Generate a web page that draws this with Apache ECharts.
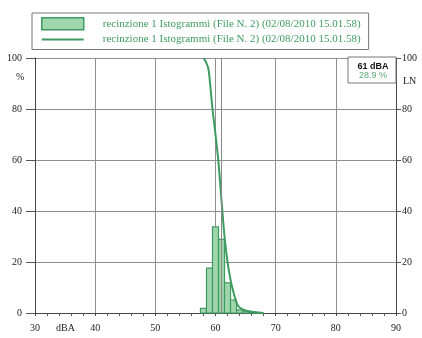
<!DOCTYPE html>
<html><head><meta charset="utf-8">
<script src="https://cdn.jsdelivr.net/npm/echarts@6/dist/echarts.min.js"></script>
<style>html,body{margin:0;padding:0;background:#fff}#c{width:422px;height:338px}</style>
</head><body><div id="c"></div>
<script>
const levels = [58, 59, 60, 61, 62, 63, 64, 65, 66, 67];
const histValues = [1.8, 17.6, 33.8, 28.9, 11.8, 5.1, 1.2, 0.7, 0.4, 0.2];
const lnLevels = [58.0, 58.4, 58.8, 59.1, 59.5, 60.0, 60.5, 61.0, 61.5, 62.0, 62.5, 63.0, 63.5, 64.0, 65.0, 66.0, 67.0, 68.0];
const lnValues = [100, 98.5, 96, 90, 80, 70, 59, 44, 30, 20, 13, 8, 4, 2.2, 1, 0.5, 0.2, 0];
const xTicks = [30, 40, 50, 60, 70, 80, 90];
const yTicks = [0, 20, 40, 60, 80, 100];
const seriesLabel = 'recinzione 1 Istogrammi (File N. 2) (02/08/2010 15.01.58)';
const cursorLevel = 61;
const cursorLabel = '61 dBA';
const cursorValue = '28.9 %';

const GREEN = '#3f9b62';
const FILL = '#9fd6ab';
const GRID = '#8e8e8e';
const SERIF = '"Liberation Serif", "DejaVu Serif", serif';
const LINE_ICON = 'path://M0,0 L42,0 Z M0,5 L42,5 L42,7 L0,7 Z M0,12 L42,12 Z';

const chart = echarts.init(document.getElementById('c'), null, {renderer: 'canvas'});
const axisLabelStyle = {fontFamily: SERIF, fontSize: 10, color: '#222'};

chart.setOption({
  animation: false,
  backgroundColor: '#fff',
  grid: {left: 35, right: 26, top: 58, bottom: 25},
  legend: {
    orient: 'vertical', left: 32, top: 13,
    borderColor: '#777', borderWidth: 1, padding: [4, 8, 4, 9],
    itemWidth: 42, itemHeight: 12, itemGap: 3,
    textStyle: {fontFamily: SERIF, fontSize: 11, color: GREEN, padding: [0, 0, 0, 14]},
    formatter: function () { return seriesLabel; },
    data: [
      {name: 'Istogramma', icon: 'rect', itemStyle: {color: FILL, borderColor: GREEN, borderWidth: 1.5}},
      {name: 'LN', icon: LINE_ICON, itemStyle: {color: GREEN, borderWidth: 0}}
    ]
  },
  xAxis: {
    type: 'value', min: xTicks[0], max: xTicks[xTicks.length - 1], interval: 10,
    axisLine: {show: true, lineStyle: {color: '#444'}},
    axisTick: {show: true, length: 3, lineStyle: {color: '#444'}},
    minorTick: {show: true, splitNumber: 5, length: 3, lineStyle: {color: '#555'}},
    splitLine: {show: true, lineStyle: {color: GRID, width: 1}},
    axisLabel: Object.assign({margin: 10, showMinLabel: true, showMaxLabel: true}, axisLabelStyle)
  },
  yAxis: [
    {
      type: 'value', min: yTicks[0], max: yTicks[yTicks.length - 1], interval: 20, position: 'left',
      axisLine: {show: true, lineStyle: {color: '#444'}},
      axisTick: {show: true, length: 9, lineStyle: {color: '#555'}},
      splitLine: {show: true, lineStyle: {color: GRID, width: 1}},
      axisLabel: Object.assign({margin: 13}, axisLabelStyle)
    },
    {
      type: 'value', min: yTicks[0], max: yTicks[yTicks.length - 1], interval: 20, position: 'right',
      axisLine: {show: true, lineStyle: {color: '#444'}},
      axisTick: {show: true, length: 5, lineStyle: {color: '#555'}},
      splitLine: {show: false},
      axisLabel: Object.assign({margin: 6}, axisLabelStyle)
    }
  ],
  series: [
    {
      name: 'Istogramma', type: 'custom', yAxisIndex: 0,
      itemStyle: {color: FILL, borderColor: GREEN},
      encode: {x: 0, y: 1},
      data: levels.map((l, i) => [l, histValues[i]]),
      renderItem: function (params, api) {
        const x = api.value(0), y = api.value(1);
        const p1 = api.coord([x - 0.5, y]);
        const p2 = api.coord([x + 0.5, 0]);
        return {
          type: 'rect',
          shape: {x: p1[0], y: p1[1], width: p2[0] - p1[0], height: p2[1] - p1[1]},
          style: {fill: FILL, stroke: GREEN, lineWidth: 1.2}
        };
      },
      z: 3
    },
    {
      name: 'LN', type: 'line', yAxisIndex: 1, symbol: 'none', smooth: 0.3,
      lineStyle: {color: GREEN, width: 2}, itemStyle: {color: GREEN},
      data: lnLevels.map((l, i) => [l, lnValues[i]]),
      markLine: {
        silent: true, symbol: 'none', label: {show: false},
        lineStyle: {color: '#888', type: 'solid', width: 1},
        data: [{xAxis: cursorLevel}]
      },
      z: 4
    }
  ],
  graphic: [
    {type: 'text', left: 16, top: 72, style: {text: '%', font: '10px ' + SERIF, fill: '#222'}},
    {type: 'text', left: 403, top: 76, style: {text: 'LN', font: '10px ' + SERIF, fill: '#222'}},
    {type: 'text', left: 56, top: 323, style: {text: 'dBA', font: '10px ' + SERIF, fill: '#222'}},
    {type: 'rect', shape: {x: 348, y: 57, width: 48, height: 26}, style: {fill: '#fff', stroke: '#777', lineWidth: 1}, z: 10},
    {type: 'text', x: 373, y: 67, style: {text: cursorLabel, font: 'bold 9px "Liberation Sans", Arial, sans-serif', fill: '#111', align: 'center', verticalAlign: 'middle'}, z: 11},
    {type: 'text', x: 373, y: 76, style: {text: cursorValue, font: '9px "Liberation Sans", Arial, sans-serif', fill: '#5aaa78', align: 'center', verticalAlign: 'middle'}, z: 11}
  ]
});
</script>
</body></html>
